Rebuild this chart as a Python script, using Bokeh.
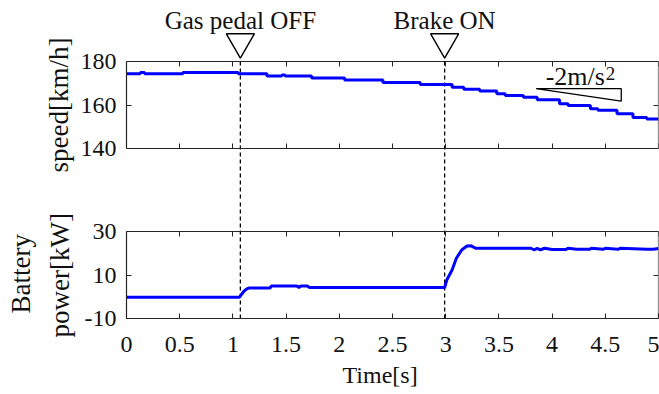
from bokeh.plotting import figure
from bokeh.layouts import column
from bokeh.models import Range1d, LinearAxis, FixedTicker, Title
from bokeh.embed import file_html
from bokeh.resources import INLINE
from bokeh.core.properties import value

# ---------------- data ----------------
speed_t = [0.00, 0.13, 0.17, 0.53, 1.05, 1.32, 1.46, 1.49, 1.74, 2.05, 2.41, 2.76,
           3.06, 3.17, 3.32, 3.48, 3.56, 3.73, 3.86, 4.07, 4.15, 4.36, 4.43, 4.61,
           4.76, 4.89, 5.00]
speed_v = [174.4, 175.0, 174.4, 175.0, 174.4, 173.3, 173.8, 173.3, 172.4, 171.5, 170.3, 169.4,
           168.2, 167.2, 166.4, 165.2, 164.4, 163.6, 162.4, 160.6, 159.8, 158.3, 157.6, 156.0,
           154.2, 153.6, 153.6]

power_t = [0.00, 1.06, 1.08, 1.10, 1.13, 1.15, 1.35, 1.36, 1.60, 1.62, 1.64, 1.70, 1.72,
           2.99, 3.01, 3.06, 3.10, 3.15, 3.20, 3.24, 3.28, 3.80, 3.83, 3.86, 3.89, 3.93,
           4.00, 4.13, 4.15, 4.23, 4.35, 4.37, 4.48, 4.50, 4.62, 4.64, 4.89, 4.95, 5.00]
power_v = [-0.2, -0.2, 1.0, 2.3, 3.6, 4.0, 4.0, 4.9, 4.9, 4.3, 4.9, 4.9, 4.2,
           4.2, 7.7, 12.3, 17.7, 21.5, 23.3, 23.4, 22.3, 22.3, 21.6, 22.2, 21.6, 22.3,
           21.7, 21.7, 22.3, 21.8, 21.8, 22.3, 21.8, 22.3, 21.8, 22.3, 21.8, 21.8, 22.2]

event_t = [1.07, 2.99]
event_labels = ["Gas pedal OFF", "Brake ON"]

x_ticks = [0, 0.5, 1, 1.5, 2, 2.5, 3, 3.5, 4, 4.5, 5]
x_tick_labels = ["0", "0.5", "1", "1.5", "2", "2.5", "3", "3.5", "4", "4.5", "5"]
speed_ticks = [140, 160, 180]
speed_tick_labels = ["140", "160", "180"]
power_ticks = [-10, 10, 30]
power_tick_labels = ["-10", "10", "30"]

slope_accel = -2.0          # m/s^2 reference slope
slope_t = [3.85, 4.65]      # s
slope_v0 = 167.5            # km/h

# ---------------- layout ----------------
W = 659
B_LEFT, B_RIGHT = 126, 1
PANEL = 87
TOP_H, TOP_BORDER, PAD_ABOVE, GAP_A = 201, 8, 53, 53
GAP_B, BOT_BORDER = 30, 76
BOT_H = GAP_B + PANEL + BOT_BORDER

SPEED_LO, SPEED_HI = speed_ticks[0], speed_ticks[-1]
POWER_LO, POWER_HI = power_ticks[0], power_ticks[-1]
sp_per_px = (SPEED_HI - SPEED_LO) / PANEL
pw_per_px = (POWER_HI - POWER_LO) / PANEL

speed_range = Range1d(SPEED_LO - GAP_A * sp_per_px, SPEED_HI + PAD_ABOVE * sp_per_px)
power_range = Range1d(POWER_LO, POWER_HI + GAP_B * pw_per_px)

FONT = "Liberation Serif"
INK = "#111111"
AX = "#262626"
BLUE = "#0000ff"


def make_fig(height, y_range, top, bottom):
    f = figure(width=W, height=height, output_backend="svg", toolbar_location=None,
               title=None, x_range=Range1d(x_ticks[0], x_ticks[-1]), y_range=y_range)
    f.min_border_left = B_LEFT
    f.min_border_right = B_RIGHT
    f.min_border_top = top
    f.min_border_bottom = bottom
    f.outline_line_color = None
    f.xgrid.visible = False
    f.ygrid.visible = False
    f.background_fill_color = "white"
    f.border_fill_color = "white"
    return f


def style_axis(ax, ticks, labels=None, show_labels=True):
    ax.ticker = FixedTicker(ticks=ticks)
    ax.major_tick_in = 5
    ax.major_tick_out = 0
    ax.minor_tick_line_color = None
    ax.axis_line_color = AX
    ax.axis_line_width = 1.2
    ax.major_tick_line_color = AX
    ax.major_tick_line_width = 1
    if show_labels:
        ax.major_label_overrides = {t: l for t, l in zip(ticks, labels)}
        ax.major_label_text_font = FONT
        ax.major_label_text_font_size = "24px"
        ax.major_label_text_color = INK
    else:
        ax.major_label_text_font_size = "0px"
        ax.major_label_text_color = None
    ax.axis_label_text_font = FONT
    ax.axis_label_text_font_style = "normal"
    ax.axis_label_text_color = INK


def add_edges(f, x_at, y_lo, y_hi, y_ticks):
    e = LinearAxis(fixed_location=y_hi)
    style_axis(e, x_ticks, show_labels=False)
    f.add_layout(e, "above")
    e = LinearAxis(fixed_location=x_at, bounds=(y_lo, y_hi))
    style_axis(e, y_ticks, show_labels=False)
    f.add_layout(e, "right")


def title(text, align, offset, standoff, size):
    return Title(text=text, align=align, offset=offset, standoff=standoff,
                 text_font=FONT, text_font_size=size, text_font_style="normal",
                 text_color=INK)


# ================= top figure: speed =================
pt = make_fig(TOP_H, speed_range, TOP_BORDER, 0)
ya = pt.yaxis[0]
style_axis(ya, speed_ticks, speed_tick_labels)
ya.bounds = (SPEED_LO, SPEED_HI)
ya.major_label_standoff = 10
ya.axis_label = "speed[km/h]"
ya.axis_label_text_font_size = "27px"
ya.axis_label_standoff = 4
xa = pt.xaxis[0]
style_axis(xa, x_ticks, show_labels=False)
xa.fixed_location = SPEED_LO
add_edges(pt, x_ticks[-1], SPEED_LO, SPEED_HI, speed_ticks)

pt.segment(x0=event_t, y0=[SPEED_HI] * len(event_t), x1=event_t,
           y1=[speed_range.start] * len(event_t),
           line_color="black", line_width=1.3, line_dash="4 3")
pt.step(speed_t, speed_v, mode="after", line_color=BLUE, line_width=3)

TRI_SIZE = 28
pt.scatter(event_t, [SPEED_HI + 19.6 * sp_per_px] * len(event_t), marker="inverted_triangle",
           size=TRI_SIZE, fill_color="white", line_color="black", line_width=1.4)
pt.text(event_t, [SPEED_HI + 41 * sp_per_px] * len(event_t), text=event_labels,
        text_font=value(FONT), text_font_size="25px",
        text_align="center", text_baseline="alphabetic", text_color=INK)

kmh_per_s = slope_accel * 3.6
slope_v1 = slope_v0 + kmh_per_s * (slope_t[1] - slope_t[0])
pt.line([slope_t[0], slope_t[1], slope_t[1], slope_t[0]],
        [slope_v0, slope_v0, slope_v1, slope_v0],
        line_color="black", line_width=1.3)
pt.text([3.94], [SPEED_HI - 15 * sp_per_px], text=["-2m/s"],
        text_font=value(FONT), text_font_size="26px", text_align="left",
        text_baseline="alphabetic", text_color=INK)
pt.text([4.505], [SPEED_HI - 12 * sp_per_px], text=["2"],
        text_font=value(FONT), text_font_size="19px", text_align="left",
        text_baseline="alphabetic", text_color=INK)

# ================= bottom figure: battery power =================
pb = make_fig(BOT_H, power_range, 0, BOT_BORDER)
yb = pb.yaxis[0]
style_axis(yb, power_ticks, power_tick_labels)
yb.bounds = (POWER_LO, POWER_HI)
yb.major_label_standoff = 10
xb = pb.xaxis[0]
style_axis(xb, x_ticks, x_tick_labels)
xb.major_label_standoff = 18
add_edges(pb, x_ticks[-1], POWER_LO, POWER_HI, power_ticks)

pb.add_layout(title("power[kW]", "left", -19, 14, "27px"), "left")
pb.add_layout(title("Battery", "left", 5, 0, "27px"), "left")
pb.add_layout(title("Time[s]", "left", 216, 10, "24px"), "below")

pb.segment(x0=event_t, y0=[power_range.start] * len(event_t), x1=event_t,
           y1=[power_range.end] * len(event_t),
           line_color="black", line_width=1.3, line_dash="4 3")
pb.line(power_t, power_v, line_color=BLUE, line_width=3)

layout = column(pt, pb, spacing=0)
open("out.html", "w").write(file_html(layout, INLINE))
